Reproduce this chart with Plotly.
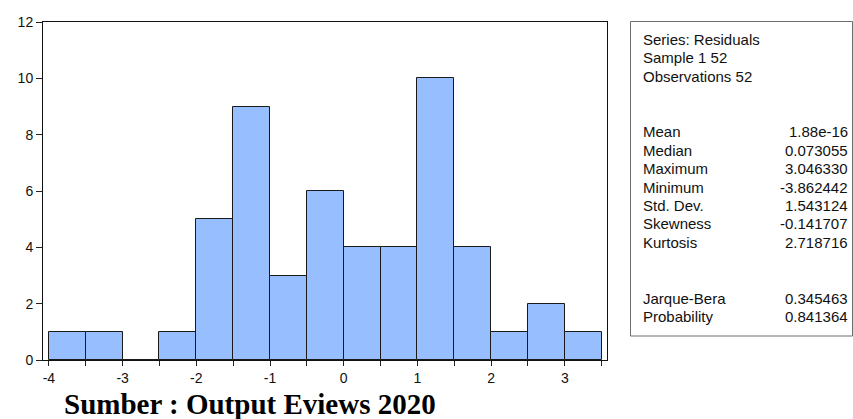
import plotly.graph_objects as go

# ---- data ----
bin_left_edges = [-4.0, -3.5, -3.0, -2.5, -2.0, -1.5, -1.0, -0.5, 0.0, 0.5, 1.0, 1.5, 2.0, 2.5, 3.0]
bin_counts = [1, 1, 0, 1, 5, 9, 3, 6, 4, 4, 10, 4, 1, 2, 1]
bin_width = 0.5

x_tick_values = [-4, -3.5, -3, -2.5, -2, -1.5, -1, -0.5, 0, 0.5, 1, 1.5, 2, 2.5, 3, 3.5]
x_tick_labels = ["-4", "", "-3", "", "-2", "", "-1", "", "0", "", "1", "", "2", "", "3", ""]
y_tick_values = [0, 2, 4, 6, 8, 10, 12]
y_tick_labels = ["0", "2", "4", "6", "8", "10", "12"]

header_lines = ["Series: Residuals", "Sample 1 52", "Observations 52"]
stat_names = ["Mean", "Median", "Maximum", "Minimum", "Std. Dev.", "Skewness", "Kurtosis"]
stat_values = ["1.88e-16", "0.073055", "3.046330", "-3.862442", "1.543124", "-0.141707", "2.718716"]
test_names = ["Jarque-Bera", "Probability"]
test_values = ["0.345463", "0.841364"]

caption = "Sumber : Output Eviews 2020"

# ---- layout geometry (viewport pixels) ----
W, H = 853, 419
PL, PR, PT, PB = 43, 607, 22, 360


def px_x(px):
    return (px - PL) / (PR - PL)


def px_y(py):
    return (PB - py) / (PB - PT)


bar_centers = [e + bin_width / 2 for e in bin_left_edges]

fig = go.Figure()
fig.add_trace(go.Bar(
    x=bar_centers,
    y=bin_counts,
    width=bin_width,
    marker=dict(color="#97BFFF", line=dict(color="#1a1a1a", width=1)),
    hoverinfo="x+y",
))

annotations = []
font_sans = "Liberation Sans, Arial, sans-serif"
FS = 15
line_h = 18.5
TXT_L, TXT_R = 641, 850


def add_line(text, py, x, anchor):
    annotations.append(dict(text=text, x=px_x(x), y=px_y(py), xref="paper", yref="paper",
                            xanchor=anchor, yanchor="middle", showarrow=False,
                            font=dict(family=font_sans, size=FS, color="#111")))


y0 = 39
for i, t in enumerate(header_lines):
    add_line(t, y0 + i * line_h, TXT_L, "left")
y1 = y0 + 5 * line_h
for i, (n, v) in enumerate(zip(stat_names, stat_values)):
    add_line(n, y1 + i * line_h, TXT_L, "left")
    add_line(v, y1 + i * line_h, TXT_R, "right")
y2 = y1 + 9 * line_h
for i, (n, v) in enumerate(zip(test_names, test_values)):
    add_line(n, y2 + i * line_h, TXT_L, "left")
    add_line(v, y2 + i * line_h, TXT_R, "right")

annotations.append(dict(text="<b>" + caption + "</b>", x=px_x(62), y=px_y(404), xref="paper", yref="paper",
                        xanchor="left", yanchor="middle", showarrow=False,
                        font=dict(family="Liberation Serif, Times New Roman, serif", size=29, color="#000")))

shapes = [dict(type="rect", xref="paper", yref="paper",
               x0=px_x(630.5), x1=px_x(852.5), y0=px_y(336), y1=px_y(21.5),
               line=dict(color="#6e6e6e", width=1), fillcolor="rgba(0,0,0,0)")]

fig.update_layout(
    width=W, height=H,
    margin=dict(l=PL, r=W - PR, t=PT, b=H - PB, pad=0),
    paper_bgcolor="white", plot_bgcolor="white",
    showlegend=False,
    bargap=0,
    annotations=annotations,
    shapes=shapes,
    xaxis=dict(range=[-4.08, 3.572], tickvals=x_tick_values, ticktext=x_tick_labels,
               ticks="outside", ticklen=5, tickcolor="#222", tickwidth=1,
               showline=True, linecolor="#111", linewidth=1, mirror=True,
               showgrid=False, zeroline=False,
               tickfont=dict(family=font_sans, size=14, color="#111")),
    yaxis=dict(range=[0, 12], tickvals=y_tick_values, ticktext=y_tick_labels,
               ticks="outside", ticklen=6, tickcolor="#222", tickwidth=1,
               showline=True, linecolor="#111", linewidth=1, mirror=True,
               showgrid=False, zeroline=False,
               tickfont=dict(family=font_sans, size=14, color="#111")),
)

fig.write_html(
    "out.html",
    config={"displayModeBar": False},
    post_script="document.body.style.margin='0';document.body.style.overflow='hidden';",
)
